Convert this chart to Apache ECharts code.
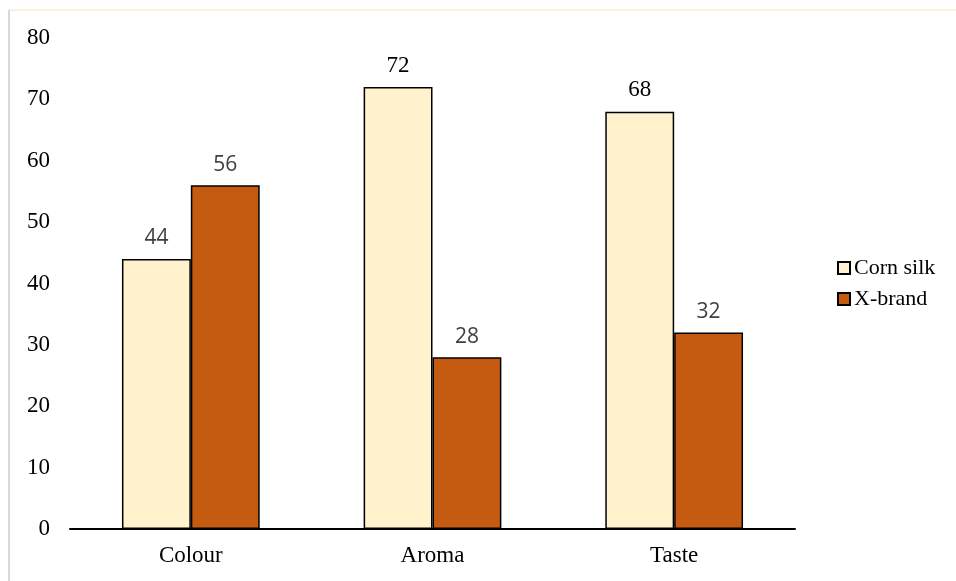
<!DOCTYPE html>
<html>
<head>
<meta charset="utf-8">
<script src="https://cdn.jsdelivr.net/npm/echarts@6/dist/echarts.min.js"></script>
<style>
  html, body { margin: 0; padding: 0; background: #fff; }
  #main { width: 956px; height: 581px; }
</style>
</head>
<body>
<div id="main"></div>
<script>
const categories = ['Colour', 'Aroma', 'Taste'];
const cornSilk = [44, 72, 68];
const xBrand = [56, 28, 32];

const serif = '"Liberation Serif", "Times New Roman", serif';
const sans = '"Open Sans", "Liberation Sans", sans-serif';

const chart = echarts.init(document.getElementById('main'));
const option = {
    animation: false,
    backgroundColor: '#fff',
    graphic: [
        { type: 'line', shape: { x1: 9, y1: 10, x2: 956, y2: 10 }, style: { stroke: '#FBE3BD', lineWidth: 1 } },
        { type: 'line', shape: { x1: 9, y1: 10, x2: 9, y2: 581 }, style: { stroke: '#D9D9D9', lineWidth: 2 } }
    ],
    grid: {
        left: 70,
        right: 161,
        top: 38,
        bottom: 52
    },
    legend: {
        orient: 'vertical',
        left: 832,
        top: 252,
        itemWidth: 12,
        itemHeight: 12,
        itemGap: 9,
        icon: 'rect',
        textStyle: {
            fontFamily: serif,
            fontSize: 22,
            color: '#000',
            padding: [0, 0, 0, -1]
        },
        data: ['Corn silk', 'X-brand']
    },
    xAxis: {
        type: 'category',
        data: categories,
        axisLine: { lineStyle: { color: '#000', width: 2 } },
        axisTick: { show: false },
        axisLabel: {
            fontFamily: serif,
            fontSize: 23,
            color: '#000',
            margin: 15
        }
    },
    yAxis: {
        type: 'value',
        min: 0,
        max: 80,
        interval: 10,
        splitLine: { show: false },
        axisLine: { show: false },
        axisTick: { show: false },
        axisLabel: {
            fontFamily: serif,
            fontSize: 23,
            color: '#000',
            margin: 20
        }
    },
    series: [
        {
            name: 'Corn silk',
            type: 'bar',
            barGap: '0%',
            barCategoryGap: '43%',
            data: cornSilk.map((v, i) => i === 0
                ? { value: v, label: { fontFamily: sans, color: '#404040', fontSize: 21 } }
                : v),
            itemStyle: { color: '#FFF2CC', borderColor: '#000', borderWidth: 1.5 },
            label: {
                show: true,
                position: 'top',
                distance: 10,
                fontFamily: serif,
                fontSize: 23,
                color: '#000'
            }
        },
        {
            name: 'X-brand',
            type: 'bar',
            data: xBrand,
            itemStyle: { color: '#C55A11', borderColor: '#000', borderWidth: 1.5 },
            label: {
                show: true,
                position: 'top',
                distance: 10,
                fontFamily: sans,
                fontSize: 21,
                color: '#404040'
            }
        }
    ]
};
chart.setOption(option);
</script>
</body>
</html>
